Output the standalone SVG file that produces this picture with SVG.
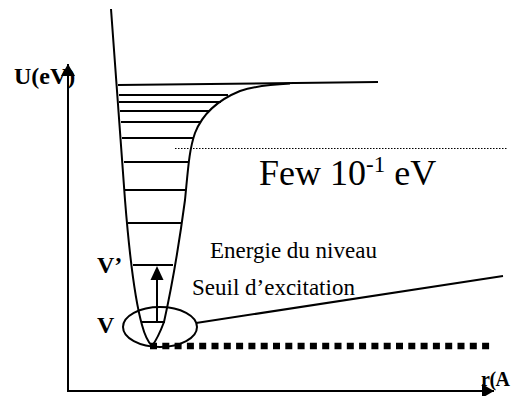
<svg xmlns="http://www.w3.org/2000/svg" width="514" height="396" viewBox="0 0 514 396">
<style>
.ln{stroke:#000;stroke-width:2;fill:none;stroke-linecap:butt}
.lvl{stroke:#000;stroke-width:2;fill:none}
.t{font-family:"Liberation Serif","Times New Roman",serif;fill:#000}
.b{font-weight:bold}
</style>
<defs>
<marker id="ah" markerWidth="12" markerHeight="14" refX="12" refY="7" orient="auto" markerUnits="userSpaceOnUse">
<path d="M0,0 L12,7 L0,14 Z" fill="#000"/>
</marker>
</defs>
<rect width="514" height="396" fill="#fff"/>
<g id="axes">
<line class="ln" x1="68" y1="392" x2="68" y2="64" marker-end="url(#ah)"/>
<line class="ln" x1="67" y1="391" x2="494" y2="391" marker-end="url(#ah)"/>
</g>
<g id="well">
<path class="ln" d="M111,9 L125,200 C129,250 135,300 142,325 Q146,340 152,346"/>
<path class="ln" d="M152,346 Q158,338 164,322 C170,295 179,245 185,200 C188,170 189,150 195,133 C202,115 218,100 240,91 C255,86 270,84.5 290,83.5"/>
<line class="lvl" x1="118" y1="85" x2="378" y2="82"/>
<line class="lvl" x1="119" y1="95" x2="228" y2="95"/>
<line class="lvl" x1="119" y1="102" x2="221" y2="102"/>
<line class="lvl" x1="120" y1="111" x2="209" y2="111"/>
<line class="lvl" x1="121" y1="122" x2="201" y2="122"/>
<line class="lvl" x1="122" y1="138" x2="194" y2="138"/>
<line class="lvl" x1="124" y1="162" x2="189" y2="162"/>
<line class="lvl" x1="125" y1="190" x2="186" y2="190"/>
<line class="lvl" x1="128" y1="223" x2="182" y2="223"/>
<line class="lvl" x1="133" y1="265" x2="173" y2="265"/>
<line class="lvl" x1="141" y1="322" x2="165" y2="322"/>
</g>
<g id="transition">
<line class="ln" x1="157" y1="322" x2="157" y2="280"/>
<path d="M157,266 L163.5,280 L150.5,280 Z" fill="#000"/>
</g>
<g id="ellipse">
<ellipse class="ln" cx="160" cy="327" rx="37" ry="20"/>
<line class="ln" x1="196" y1="323" x2="503" y2="276"/>
</g>
<g id="levels">
<line x1="175" y1="148.5" x2="508" y2="148.5" stroke="#000" stroke-width="1" stroke-dasharray="1.5 1.5"/>
<line x1="150" y1="346" x2="491" y2="346" stroke="#000" stroke-width="6.5" stroke-dasharray="7 5.3"/>
</g>
<g id="labels">
<text class="t b" x="14" y="84" font-size="24">U(eV)</text>
<text class="t b" x="481" y="386" font-size="20" letter-spacing="-0.5">r(A</text>
<text class="t b" x="97" y="273" font-size="24">V’</text>
<text class="t b" x="97" y="333" font-size="24">V</text>
<text class="t" x="210" y="258" font-size="23">Energie du niveau</text>
<text class="t" x="192" y="295" font-size="23">Seuil d’excitation</text>
<text class="t" x="259" y="185" font-size="36">Few 10<tspan font-size="23" dy="-13">-1</tspan><tspan dy="13"> eV</tspan></text>
</g>
</svg>
